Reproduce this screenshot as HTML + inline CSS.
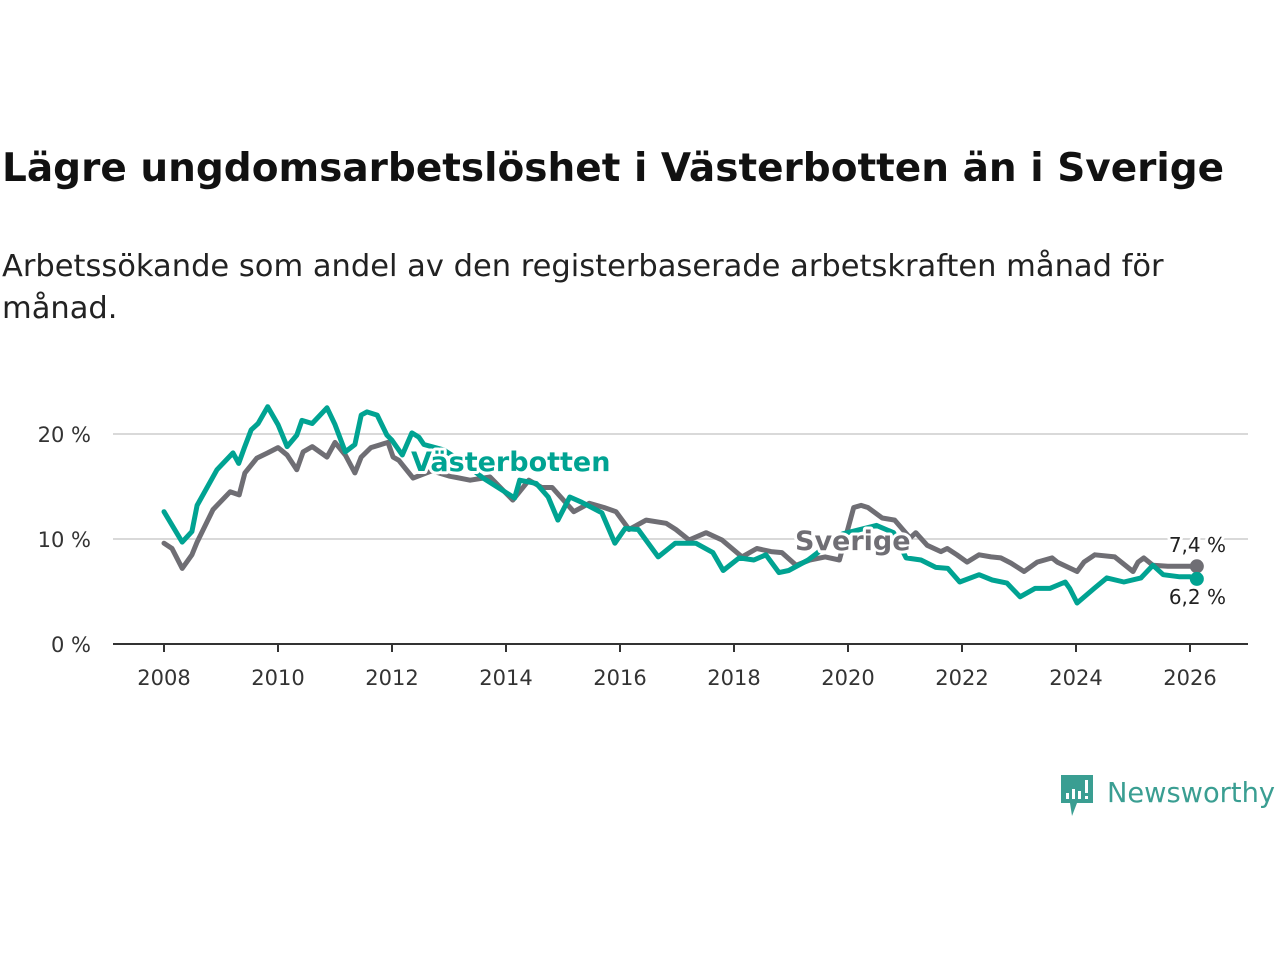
<!DOCTYPE html>
<html><head><meta charset="utf-8"><style>
body{margin:0;background:#fff;width:1280px;height:960px;overflow:hidden;font-family:"DejaVu Sans","Liberation Sans",sans-serif;color:#111}
#title{position:absolute;left:2px;top:146px;font-size:39px;font-weight:bold;margin:0;color:#111;white-space:nowrap}
#sub{position:absolute;left:2px;top:246px;font-size:30.5px;line-height:42px;width:1200px;color:#222}
svg{position:absolute;left:0;top:0}
</style></head><body>
<h1 id="title">Lägre ungdomsarbetslöshet i Västerbotten än i Sverige</h1>
<div id="sub">Arbetssökande som andel av den registerbaserade arbetskraften månad för månad.</div>
<svg id="chart" width="1280" height="960"></svg>
<script>
const yTicks=[0,10,20];
const yTickLabels=["0 %","10 %","20 %"];
const xTicks=[2008,2010,2012,2014,2016,2018,2020,2022,2024,2026];
const vbDates=[2008.0,2008.32,2008.49,2008.58,2008.93,2009.21,2009.31,2009.41,2009.53,2009.65,2009.82,2010.0,2010.16,2010.33,2010.42,2010.6,2010.86,2011.0,2011.18,2011.35,2011.46,2011.56,2011.74,2011.91,2012.0,2012.18,2012.35,2012.47,2012.56,2012.9,2013.25,2013.6,2014.15,2014.24,2014.53,2014.74,2014.91,2015.12,2015.33,2015.68,2015.91,2016.09,2016.32,2016.67,2016.97,2017.33,2017.63,2017.81,2018.09,2018.35,2018.56,2018.79,2018.96,2019.3,2019.47,2019.61,2019.91,2020.5,2020.8,2021.02,2021.28,2021.54,2021.75,2021.96,2022.3,2022.53,2022.79,2023.02,2023.28,2023.54,2023.81,2023.89,2024.02,2024.32,2024.54,2024.84,2025.14,2025.35,2025.53,2025.82,2026.0,2026.12];
const vbValues=[12.6,9.7,10.7,13.2,16.6,18.2,17.2,18.7,20.4,21.0,22.6,20.9,18.8,19.9,21.3,21.0,22.5,20.9,18.3,19.0,21.8,22.1,21.8,19.9,19.4,18.0,20.1,19.7,19.0,18.5,17.3,15.8,13.9,15.6,15.3,14.0,11.8,14.0,13.5,12.5,9.6,11.0,10.9,8.3,9.6,9.6,8.7,7.0,8.2,8.0,8.5,6.8,7.0,8.0,8.7,9.5,10.5,11.3,10.6,8.2,8.0,7.3,7.2,5.9,6.6,6.1,5.8,4.5,5.3,5.3,5.9,5.3,3.9,5.3,6.3,5.9,6.3,7.5,6.6,6.4,6.4,6.2];
const svDates=[2008.0,2008.14,2008.32,2008.49,2008.58,2008.86,2009.16,2009.32,2009.42,2009.63,2009.82,2010.0,2010.16,2010.33,2010.44,2010.6,2010.86,2011.0,2011.18,2011.35,2011.46,2011.63,2011.93,2012.02,2012.12,2012.37,2012.7,2013.0,2013.37,2013.72,2014.12,2014.4,2014.63,2014.81,2015.19,2015.46,2015.72,2015.93,2016.16,2016.46,2016.81,2016.98,2017.21,2017.51,2017.79,2018.14,2018.4,2018.65,2018.84,2019.09,2019.33,2019.6,2019.85,2020.1,2020.23,2020.35,2020.6,2020.82,2021.09,2021.19,2021.39,2021.63,2021.74,2021.91,2022.09,2022.3,2022.51,2022.68,2022.86,2023.09,2023.32,2023.58,2023.67,2024.02,2024.14,2024.33,2024.68,2025.0,2025.09,2025.19,2025.35,2025.61,2026.12];
const svValues=[9.6,9.1,7.2,8.5,9.7,12.8,14.5,14.2,16.3,17.7,18.2,18.7,18.0,16.6,18.3,18.8,17.8,19.2,18.0,16.3,17.8,18.7,19.2,17.8,17.5,15.8,16.5,16.0,15.6,15.9,13.7,15.6,14.9,14.9,12.6,13.4,13.0,12.6,10.9,11.8,11.5,10.9,9.9,10.6,9.9,8.3,9.1,8.8,8.7,7.5,8.0,8.3,8.0,13.0,13.2,13.0,12.0,11.8,10.1,10.6,9.4,8.8,9.1,8.5,7.8,8.5,8.3,8.2,7.7,6.9,7.8,8.2,7.8,6.9,7.8,8.5,8.3,6.9,7.8,8.2,7.5,7.4,7.4];
const NS="http://www.w3.org/2000/svg";
const svg=document.getElementById('chart');
const X0=113,X1=1248;
const xs=y=>164+(y-2008)*57;
const ys=v=>644-v*10.5;
function el(t,a,txt){const e=document.createElementNS(NS,t);for(const k in a)e.setAttribute(k,a[k]);if(txt!=null)e.textContent=txt;svg.appendChild(e);return e;}
yTicks.forEach((t,i)=>{
  if(t>0){const g=el('line',{x1:X0,x2:X1,y1:ys(t),y2:ys(t),stroke:'#d9d9d9','stroke-width':2});
  
  }
  const l=el('text',{x:91,y:ys(t)+8,'text-anchor':'end','font-size':21,fill:'#333'},yTickLabels[i]);
  
  
});
const ax=el('line',{x1:X0,x2:X1,y1:644,y2:644,stroke:'#333','stroke-width':2});


xTicks.forEach(t=>{
  const k=el('line',{x1:xs(t),x2:xs(t),y1:644,y2:652,stroke:'#333','stroke-width':2});
  
  
  const l=el('text',{x:xs(t),y:685,'text-anchor':'middle','font-size':21,fill:'#333'},String(t));
  
  
});
function line(d,v,c,name){
  const p=el('path',{d:d.map((x,i)=>(i?'L':'M')+xs(x).toFixed(1)+','+ys(v[i]).toFixed(1)).join(''),fill:'none',stroke:c,'stroke-width':5,'stroke-linejoin':'round','stroke-linecap':'round'});
  
  
  const n=d.length-1;
  const dot=el('circle',{cx:xs(d[n]),cy:ys(v[n]),r:7,fill:c});
  
  
}
const gray='#6f6e74',teal='#00a392';
line(svDates,svValues,gray,'sverige-line');
line(vbDates,vbValues,teal,'vasterbotten-line');
function lab(x,y,t,c,size,w,name,anchor){
  const a={x:x,y:y,'font-size':size,'font-weight':w,fill:c,stroke:'#fff','stroke-width':6,'paint-order':'stroke','stroke-linejoin':'round','text-anchor':anchor||'start'};
  const e=el('text',a,t);
  
  
}
lab(411,471,'Västerbotten',teal,27,'bold','vasterbotten-label');
lab(795,550,'Sverige',gray,27,'bold','sverige-label');
lab(1226,552,'7,4 %','#222',20,'normal','sverige-end-value','end');
lab(1226,604,'6,2 %','#222',20,'normal','vasterbotten-end-value','end');
</script>
<svg width="1280" height="960" style="pointer-events:none">
<path d="M1061 775h32v28h-16l-5 13l-2-13h-9z" fill="#3a9e92"/>
<rect x="1066" y="793" width="3" height="6" fill="#fff"/><rect x="1072" y="789" width="3" height="10" fill="#fff"/><rect x="1078" y="791" width="3" height="8" fill="#fff"/><rect x="1085" y="780" width="3" height="13" fill="#fff"/><rect x="1085" y="796" width="3" height="3" fill="#fff"/>
<text x="1107" y="802" font-size="28" fill="#3a9e92" textLength="168" lengthAdjust="spacingAndGlyphs" font-family="DejaVu Sans, sans-serif">Newsworthy</text>
</svg>
</body></html>
